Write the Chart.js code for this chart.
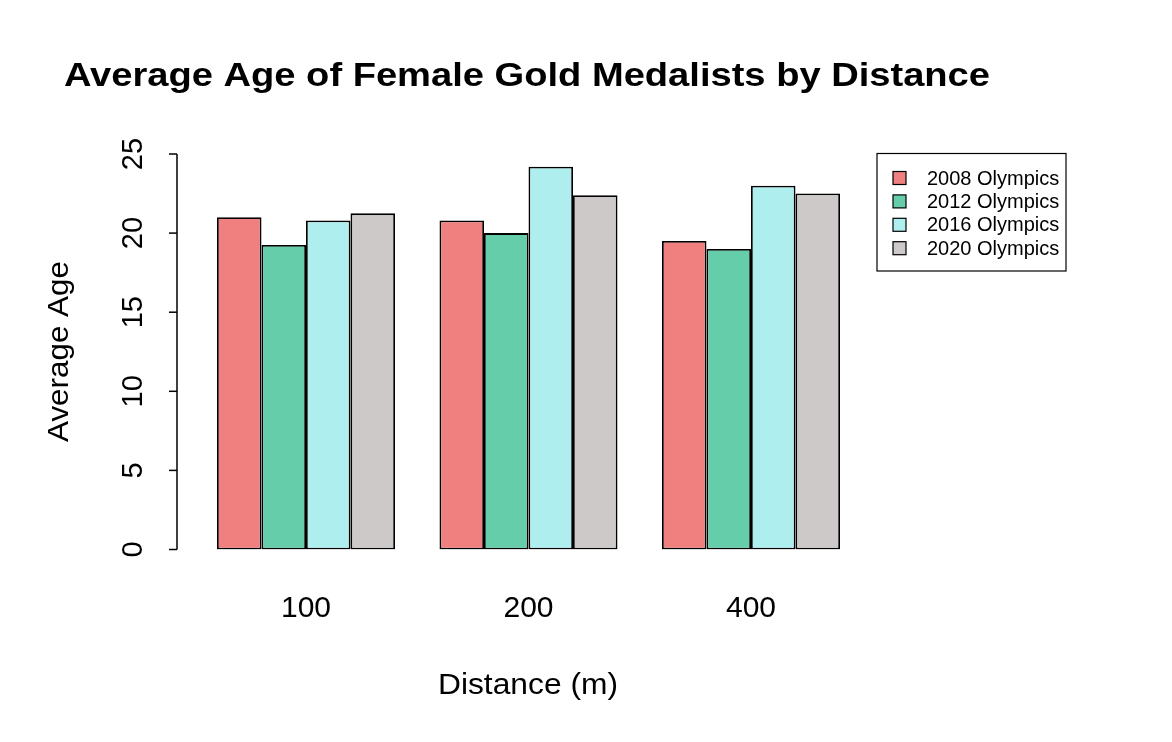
<!DOCTYPE html>
<html>
<head>
<meta charset="utf-8">
<script src="https://cdn.jsdelivr.net/npm/chart.js@4"></script>
<style>
  html, body { margin: 0; padding: 0; background: #ffffff; }
  #wrap { width: 1172px; height: 742px; }
</style>
</head>
<body>
<div id="wrap"><canvas id="chart" width="1172" height="742"></canvas></div>
<script>
// data
const distances = ["100", "200", "400"];
const games = ["2008 Olympics", "2012 Olympics", "2016 Olympics", "2020 Olympics"];
const age2008 = [21.0, 20.8, 19.5];
const age2012 = [19.25, 20.0, 19.0];
const age2016 = [20.8, 24.2, 23.0];
const age2020 = [21.25, 22.4, 22.5];
const yTicks = [0, 5, 10, 15, 20, 25];
const colors = ["#F08080", "#66CDAA", "#AFEEEE", "#CDC9C9"];

const FONT = "'Liberation Sans', Arial, Helvetica, sans-serif";

// text drawn stretched to the width it has in the picture
function fitText(ctx, text, x, y, width) {
    const w = ctx.measureText(text).width;
    ctx.save();
    ctx.translate(x, y);
    ctx.scale(width / w, 1);
    ctx.fillText(text, 0, 0);
    ctx.restore();
}

// R-style axes, title and legend drawn on top of the library's scales
const baseRPlot = {
    id: "baseRPlot",
    afterDraw(chart) {
        const ctx = chart.ctx;
        const y = chart.scales.y;
        const x = chart.scales.x;
        ctx.save();
        ctx.fillStyle = "#000";
        ctx.strokeStyle = "#000";
        ctx.lineWidth = 1.5;

        // title
        ctx.font = "bold 34px " + FONT;
        ctx.textAlign = "left";
        ctx.textBaseline = "middle";
        fitText(ctx, "Average Age of Female Gold Medalists by Distance", 64, 77, 926);

        // y axis
        const axisX = 177;
        ctx.beginPath();
        ctx.moveTo(axisX, y.getPixelForValue(yTicks[0]));
        ctx.lineTo(axisX, y.getPixelForValue(yTicks[yTicks.length - 1]));
        ctx.stroke();
        ctx.font = "29px " + FONT;
        yTicks.forEach(function(t) {
            const py = y.getPixelForValue(t);
            ctx.beginPath();
            ctx.moveTo(axisX - 8, py);
            ctx.lineTo(axisX, py);
            ctx.stroke();
            ctx.save();
            ctx.translate(134, py);
            ctx.rotate(-Math.PI / 2);
            ctx.textAlign = "center";
            ctx.textBaseline = "middle";
            ctx.fillText(String(t), 0, 0);
            ctx.restore();
        });

        // y title
        ctx.save();
        ctx.font = "30px " + FONT;
        ctx.translate(60, 352);
        ctx.rotate(-Math.PI / 2);
        ctx.textAlign = "left";
        ctx.textBaseline = "middle";
        fitText(ctx, "Average Age", -90, 0, 181);
        ctx.restore();

        // x labels
        ctx.font = "30px " + FONT;
        ctx.textAlign = "center";
        ctx.textBaseline = "middle";
        distances.forEach(function(d, i) {
            ctx.fillText(d, x.getPixelForValue(i), 609);
        });
        ctx.textAlign = "left";
        fitText(ctx, "Distance (m)", 438, 686, 180);

        // legend
        ctx.lineWidth = 1.2;
        ctx.strokeRect(877, 153.5, 189, 117.5);
        ctx.font = "20px " + FONT;
        ctx.textAlign = "left";
        games.forEach(function(g, i) {
            const cy = 178 + i * 23.4;
            ctx.fillStyle = colors[i];
            ctx.fillRect(893, cy - 6.5, 13, 13);
            ctx.strokeRect(893, cy - 6.5, 13, 13);
            ctx.fillStyle = "#000";
            ctx.fillText(g, 927, cy + 1);
        });
        ctx.restore();
    }
};

const series = [age2008, age2012, age2016, age2020];

new Chart(document.getElementById("chart"), {
    type: "bar",
    data: {
        labels: distances,
        datasets: games.map(function(g, i) {
            return {
                label: g,
                data: series[i],
                backgroundColor: colors[i],
                borderColor: "#000",
                borderWidth: 1.8,
                borderSkipped: false,
                categoryPercentage: 0.8,
                barPercentage: 1.0
            };
        })
    },
    options: {
        responsive: false,
        animation: false,
        devicePixelRatio: 1,
        layout: {
            padding: { left: 194.75, right: 309.75, top: 154, bottom: 192.5 }
        },
        scales: {
            x: { display: false },
            y: { display: false, min: 0, max: 25 }
        },
        plugins: {
            legend: { display: false },
            title: { display: false },
            tooltip: { enabled: false }
        }
    },
    plugins: [baseRPlot]
});
</script>
</body>
</html>
